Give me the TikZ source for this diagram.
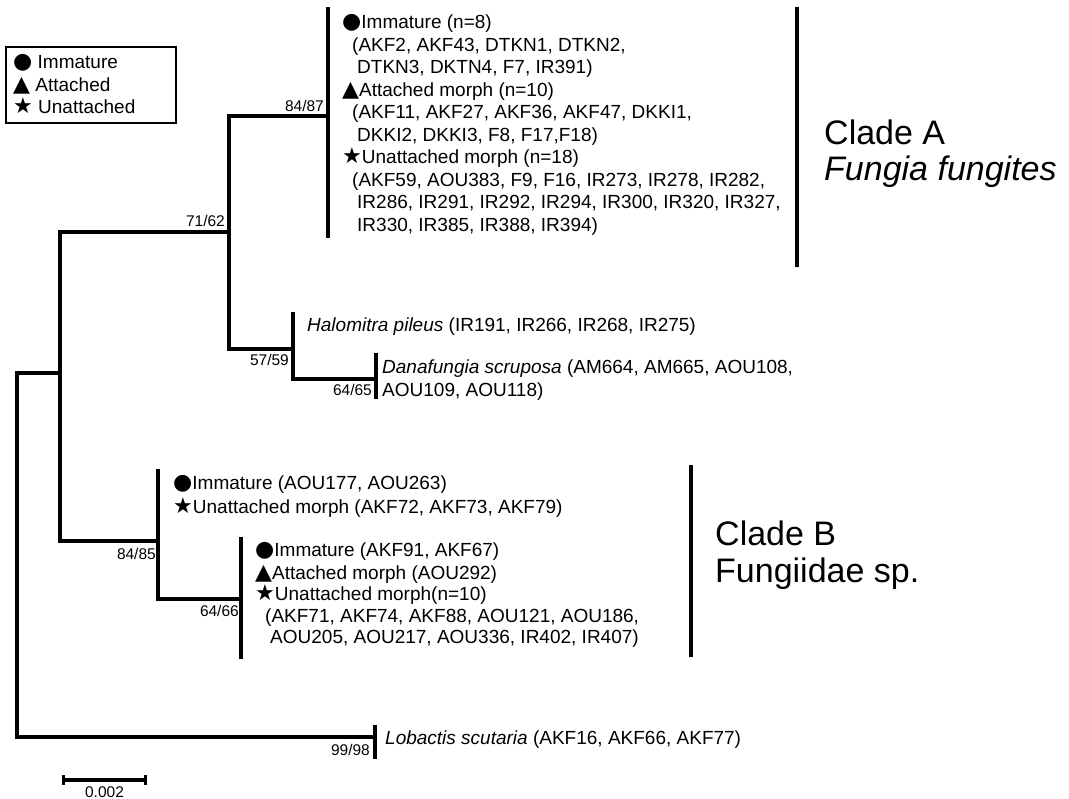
\documentclass[tikz,border=0pt]{standalone}
\usepackage{fontspec}
\setmainfont{Liberation Sans}
\newfontfamily\symfont{DejaVu Sans}
\usetikzlibrary{arrows.meta,positioning}
\newcommand{\taxsize}{\fontsize{19}{22.5}\selectfont}
\newcommand{\supsize}{\fontsize{15.5}{17}\selectfont}
\newcommand{\cladesize}{\fontsize{34}{37}\selectfont}
\newcommand{\symdot}{{\symfont\fontsize{22}{22}\selectfont ●}}
\newcommand{\symtri}{{\symfont\fontsize{22}{22}\selectfont ▲}}
\newcommand{\symstar}{{\symfont\fontsize{22}{22}\selectfont ★}}
\tikzset{
  branch/.style={line width=3.2pt, line join=miter},
  cladebar/.style={line width=4.5pt},
  taxon/.style={anchor=base west, inner sep=0pt, font=\taxsize},
  support/.style={anchor=base east, inner sep=0pt, font=\supsize},
  cladename/.style={anchor=base west, inner sep=0pt, font=\cladesize},
  legendbox/.style={draw, line width=1.4pt},
  scalebar/.style={line width=3.2pt, {Bar[width=10pt]}-{Bar[width=10pt]}}
}

\begin{document}
\begin{tikzpicture}[x=1pt, y=-1pt]
  \useasboundingbox (0,0) rectangle (1069,799);

  % tree nodes
  \coordinate (root) at (17,373);
  \coordinate (n60) at (60,373);
  \coordinate (n71) at (229,232);
  \coordinate (tipA) at (328,116);
  \coordinate (n57) at (293,349);
  \coordinate (halo) at (293,312);
  \coordinate (dana) at (376,379);
  \coordinate (n84) at (158,541);
  \coordinate (immB) at (158,469);
  \coordinate (n64) at (241,599);
  \coordinate (lob) at (375,737);

  % branches
  \draw[branch] (n60) -| (lob -| root) -- (lob);
  \draw[branch] (n71) -| (n84 -| n60) -- (n84);
  \draw[branch] (tipA) -| (n57 -| n71) -- (n57);
  \draw[branch] (halo) -- (dana -| n57) -- (dana);
  \draw[branch] (immB) -- (n64 -| n84) -- (n64);
  \draw[branch] (328,7) -- (tipA) -- (328,238);
  \draw[branch] (376,353) -- (dana) -- (376,399);
  \draw[branch] (241,537) -- (n64) -- (241,659);
  \draw[branch] (375,725) -- (lob) -- (375,759);

  % support values
  \node[support] (s8487) at (324,112) {84/87};
  \node[support] (s7162) at (225,227) {71/62};
  \node[support] (s5759) at (289,366) {57/59};
  \node[support] (s6465) at (372,396) {64/65};
  \node[support] (s8485) at (156,559) {84/85};
  \node[support] (s6466) at (239,616) {64/66};
  \node[support] (s9998) at (370,755) {99/98};

  % clade A tips
  \node[taxon] (aImm) at (342,29) {\symdot Immature (n=8)};
  \node[taxon] (aImm1) at (352,51.5) {(AKF2, AKF43, DTKN1, DTKN2,};
  \node[taxon] (aImm2) at (357,74) {DTKN3, DKTN4, F7, IR391)};
  \node[taxon] (aAtt) at (342,96.5) {\symtri Attached morph (n=10)};
  \node[taxon] (aAtt1) at (352,119) {(AKF11, AKF27, AKF36, AKF47, DKKI1,};
  \node[taxon] (aAtt2) at (357,141.5) {DKKI2, DKKI3, F8, F17,F18)};
  \node[taxon] (aUna) at (342,164) {\symstar Unattached morph (n=18)};
  \node[taxon] (aUna1) at (352,186.5) {(AKF59, AOU383, F9, F16, IR273, IR278, IR282,};
  \node[taxon] (aUna2) at (357,209) {IR286, IR291, IR292, IR294, IR300, IR320, IR327,};
  \node[taxon] (aUna3) at (357,231.5) {IR330, IR385, IR388, IR394)};

  \node[taxon] (halomitra) at (307,332) {\textit{Halomitra pileus} (IR191, IR266, IR268, IR275)};
  \node[taxon] (danafungia) at (382,374) {\textit{Danafungia scruposa} (AM664, AM665, AOU108,};
  \node[taxon] (danafungia2) at (382,397) {AOU109, AOU118)};

  % clade B tips
  \node[taxon] (bImm) at (173,490) {\symdot Immature (AOU177, AOU263)};
  \node[taxon] (bUna) at (173,514) {\symstar Unattached morph (AKF72, AKF73, AKF79)};
  \node[taxon] (cImm) at (255,557) {\symdot Immature (AKF91, AKF67)};
  \node[taxon] (cAtt) at (255,579) {\symtri Attached morph (AOU292)};
  \node[taxon] (cUna) at (255,600) {\symstar Unattached morph(n=10)};
  \node[taxon] (cUna1) at (265,622) {(AKF71, AKF74, AKF88, AOU121, AOU186,};
  \node[taxon] (cUna2) at (270,643) {AOU205, AOU217, AOU336, IR402, IR407)};

  \node[taxon] (lobactis) at (385,744) {\textit{Lobactis scutaria} (AKF16, AKF66, AKF77)};

  % clade bars
  \draw[cladebar] (797,7) -- (797,267);
  \draw[cladebar] (691,465) -- (691,657);
  \node[cladename] (cladeA) at (824,145) {Clade A};
  \node[cladename] (cladeAsp) at (824,181) {\textit{Fungia fungites}};
  \node[cladename] (cladeB) at (715,545) {Clade B};
  \node[cladename] (cladeBsp) at (715,582) {Fungiidae sp.};

  % legend
  \draw[legendbox] (6,47) rectangle (176,123);
  \node[taxon] (legImm) at (13,69) {\symdot\ Immature};
  \node[taxon] (legAtt) at (13,92) {\symtri\ Attached};
  \node[taxon] (legUna) at (13,114) {\symstar\ Unattached};

  % scale
  \coordinate (sbl) at (62,780);
  \coordinate (sbr) at (147,780);
  \draw[scalebar] (sbl) -- (sbr);
  \node[support, anchor=base] (scale) at (104.5,797) {0.002};
\end{tikzpicture}
\end{document}
